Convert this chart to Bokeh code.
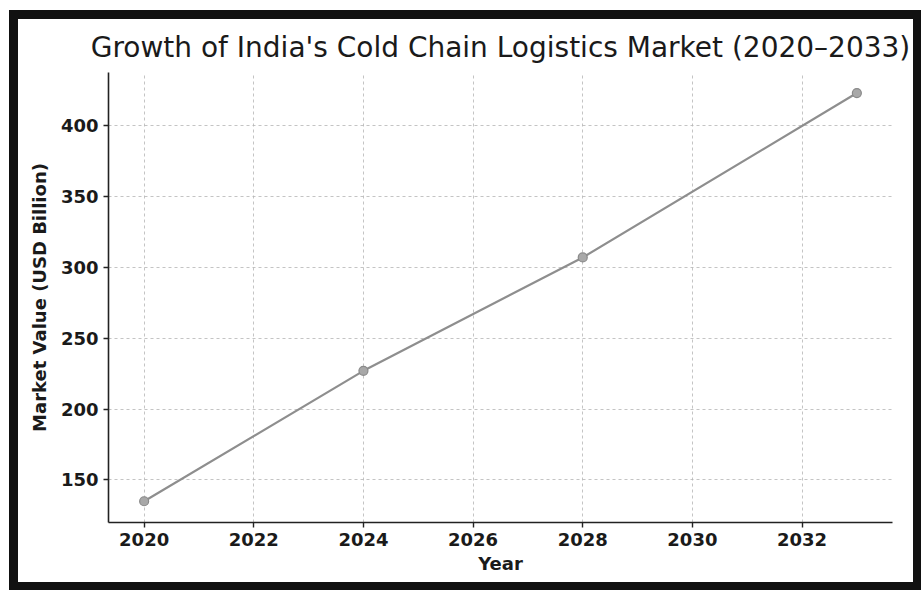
from bokeh.plotting import figure
from bokeh.models import Range1d, FixedTicker
from bokeh.embed import file_html
from bokeh.resources import INLINE

# ---- data ----
years = [2020, 2024, 2028, 2033]
market_value = [135, 227, 307, 423]
x_ticks = [2020, 2022, 2024, 2026, 2028, 2030, 2032]
y_ticks = [150, 200, 250, 300, 350, 400]
title_text = "Growth of India's Cold Chain Logistics Market (2020\u20132033)"
x_label = "Year"
y_label = "Market Value (USD Billion)"

FONT = "DejaVu Sans"

p = figure(width=912, height=580, output_backend="svg", toolbar_location=None,
           x_range=Range1d(2019.35, 2033.65), y_range=Range1d(120.0, 437.5),
           min_border_left=90, min_border_right=38, min_border_top=52, min_border_bottom=77,
           background_fill_color="white", border_fill_color="white")
p.outline_line_color = None
p.styles = {"box-sizing": "border-box", "overflow": "hidden", "border-style": "solid",
            "border-color": "#111111", "border-width": "9px 8px 8px 9px"}
p.margin = (10, 0, 0, 9)

p.title.text = title_text
p.title.text_font = FONT
p.title.text_font_size = "28px"
p.title.text_font_style = "normal"
p.title.text_color = "#1a1a1a"
p.title.align = "center"
p.title.standoff = 18

for ax in (p.xaxis[0], p.yaxis[0]):
    ax.axis_line_color = "#222222"
    ax.axis_line_width = 1.6
    ax.major_tick_line_color = "#222222"
    ax.major_tick_line_width = 1.4
    ax.major_tick_in = 0
    ax.major_tick_out = 5
    ax.minor_tick_line_color = None
    ax.major_label_text_font = FONT
    ax.major_label_text_font_size = "18px"
    ax.major_label_text_font_style = "bold"
    ax.major_label_text_color = "#1a1a1a"
    ax.axis_label_text_font = FONT
    ax.axis_label_text_font_size = "18px"
    ax.axis_label_text_font_style = "bold"
    ax.axis_label_text_color = "#1a1a1a"

p.xaxis.ticker = FixedTicker(ticks=x_ticks)
p.yaxis.ticker = FixedTicker(ticks=y_ticks)
p.xaxis.axis_label = x_label
p.yaxis.axis_label = y_label
p.xaxis.axis_label_standoff = 4
p.yaxis.axis_label_standoff = 8

p.xgrid.grid_line_color = "#b5b5b5"
p.ygrid.grid_line_color = "#b5b5b5"
p.xgrid.grid_line_dash = "3 3"
p.ygrid.grid_line_dash = "3 3"
p.xgrid.grid_line_alpha = 0.8
p.ygrid.grid_line_alpha = 0.8

p.line(years, market_value, line_color="#8e8e8e", line_width=2.2)
p.scatter(years, market_value, size=9, marker="circle", fill_color="#a8a8a8",
          line_color="#8a8a8a", line_width=1.2)

open("out.html", "w").write(file_html(p, INLINE))
